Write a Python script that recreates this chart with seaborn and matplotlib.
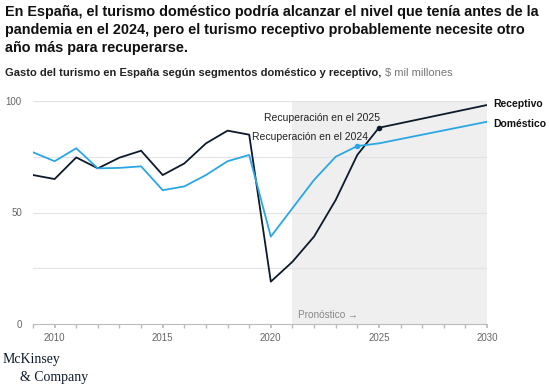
import pandas as pd
import matplotlib.pyplot as plt
import seaborn as sns

# data ($ mil millones)
years = list(range(2009, 2026)) + [2030]
receptivo = [66.8, 65.0, 74.7, 69.8, 74.6, 77.7, 66.8, 72.0, 81.0, 86.7, 84.9,
             19.0, 27.9, 39.2, 55.6, 75.8, 88.0, 98.2]
domestico = [77.0, 73.0, 78.8, 69.8, 70.0, 70.7, 60.0, 61.7, 66.8, 73.0, 75.8,
             39.2, 51.9, 64.6, 75.0, 79.8, 81.0, 90.7]
forecast_start = 2021
recovery = {"Receptivo": 2025, "Doméstico": 2024}

df = pd.concat([
    pd.DataFrame({"year": years, "valor": receptivo, "segmento": "Receptivo"}),
    pd.DataFrame({"year": years, "valor": domestico, "segmento": "Doméstico"}),
])

sns.set_theme(style="white")
plt.rcParams['font.family'] = ['Liberation Sans', 'DejaVu Sans']

colors = {"Receptivo": "#0d1a2b", "Doméstico": "#2ba6e4"}

fig = plt.figure(figsize=(5.5, 3.87), dpi=100)
ax = fig.add_axes([33 / 550, 63 / 387, 454 / 550, 223 / 387])

ax.axvspan(forecast_start, 2030, color="#efefef", zorder=0, lw=0)
for v in [25, 50, 75, 100]:
    ax.axhline(v, color="#e3e3e3", lw=0.8, zorder=0.5)

sns.lineplot(data=df, x="year", y="valor", hue="segmento", palette=colors,
             linewidth=1.3, legend=False, ax=ax, zorder=3)

# recovery markers
for seg, yr in recovery.items():
    vals = receptivo if seg == "Receptivo" else domestico
    ax.plot(yr, vals[years.index(yr)], "o", ms=3, color=colors[seg], zorder=4)

ax.text(2025.05, 92.2, "Recuperación en el 2025", ha="right", va="center",
        fontsize=7.5, color="#222222")
ax.text(2024.5, 84.0, "Recuperación en el 2024", ha="right", va="center",
        fontsize=7.5, color="#222222")
ax.text(2021.25, 4.0, "Pronóstico \u2192", ha="left", va="center",
        fontsize=7.2, color="#888888")

# end labels
ax.text(2030.3, receptivo[-1] + 0.5, "Receptivo", ha="left", va="center",
        fontsize=7.5, fontweight="bold", color="#111111")
ax.text(2030.3, domestico[-1] - 1.0, "Doméstico", ha="left", va="center",
        fontsize=7.5, fontweight="bold", color="#111111")

ax.set_xlim(2009, 2030)
ax.set_ylim(0, 100)
ax.set_xticks([2010, 2015, 2020, 2025, 2030])
ax.set_xticks(range(2009, 2031), minor=True)
ax.set_yticks([0, 50, 100])
ax.tick_params(axis="x", which="both", length=3, color="#bbbbbb", direction="out",
               labelsize=7, labelcolor="#666666", bottom=True)
ax.tick_params(axis="y", length=0, labelsize=7, labelcolor="#666666", pad=8)
ax.set_xlabel("")
ax.set_ylabel("")
for side in ["top", "right", "left"]:
    ax.spines[side].set_visible(False)
ax.spines["bottom"].set_color("#bbbbbb")
ax.spines["bottom"].set_linewidth(0.8)

fig.text(0.009, 0.988,
         "En España, el turismo doméstico podría alcanzar el nivel que tenía antes de la\n"
         "pandemia en el 2024, pero el turismo receptivo probablemente necesite otro\n"
         "año más para recuperarse.",
         ha="left", va="top", fontsize=10.35, fontweight="bold", color="#111111",
         linespacing=1.36)
t = fig.text(0.009, 0.812,
             "Gasto del turismo en España según segmentos doméstico y receptivo,",
             ha="left", va="center", fontsize=8, fontweight="bold", color="#222222")
fig.canvas.draw()
bb = t.get_window_extent()
fig.text(bb.x1 / fig.bbox.width + 0.006, 0.812, "$ mil millones", ha="left",
         va="center", fontsize=8, color="#777777")

fig.text(0.004, 0.055, "McKinsey", fontsize=10, family="Liberation Serif",
         color="#0d1a2b", ha="left", va="bottom")
fig.text(0.036, 0.008, "& Company", fontsize=10, family="Liberation Serif",
         color="#0d1a2b", ha="left", va="bottom")

fig.savefig("out.png", dpi=100)
